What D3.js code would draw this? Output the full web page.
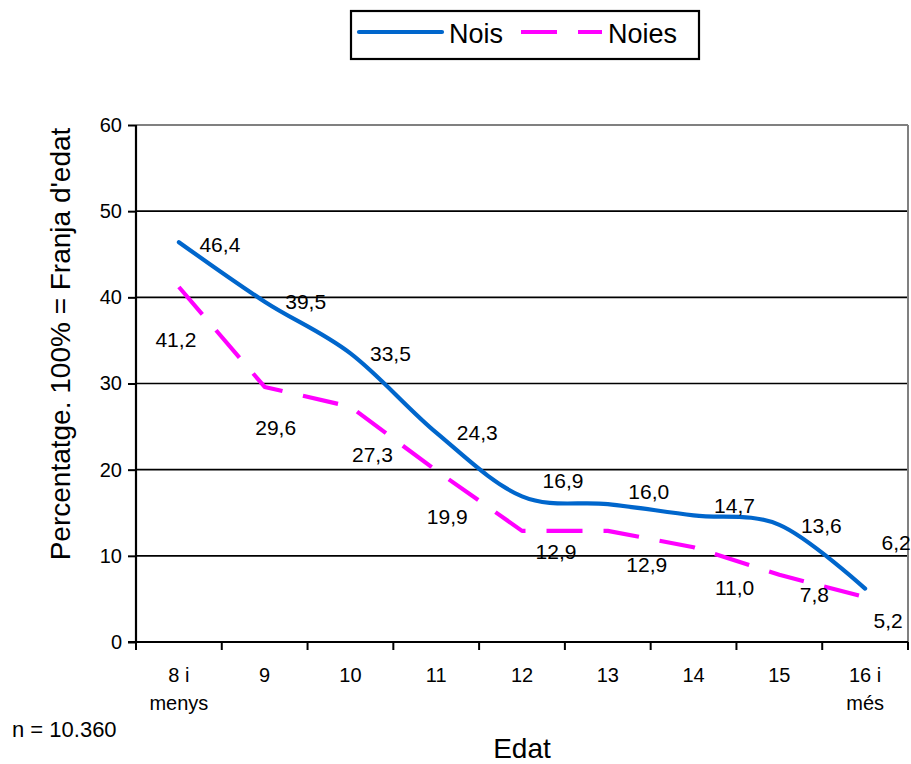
<!DOCTYPE html>
<html>
<head>
<meta charset="utf-8">
<script src="https://cdn.jsdelivr.net/npm/d3@7/dist/d3.min.js"></script>
<style>
  html, body { margin: 0; padding: 0; background: #fff; }
  svg text { font-family: "Liberation Sans", Arial, sans-serif; fill: #000; }
</style>
</head>
<body>
<svg id="chart" width="911" height="764"></svg>
<script>
// Age groups (two-line labels) and shares per group, in percent
const categories = [["8 i", "menys"], ["9"], ["10"], ["11"], ["12"], ["13"], ["14"], ["15"], ["16 i", "més"]];
const nois  = [46.4, 39.5, 33.5, 24.3, 16.9, 16.0, 14.7, 13.6, 6.2];
const noies = [41.2, 29.6, 27.3, 19.9, 12.9, 12.9, 11.0, 7.8, 5.2];
const yTicks = [0, 10, 20, 30, 40, 50, 60];
const seriesNames = ["Nois", "Noies"];
const sampleNote = "n = 10.360";

// Where each value label sits relative to its point (dx, dy)
const noisLabelShift  = [[41, 2], [41, 0], [40, 0], [41, 0], [41, -16], [41, -13], [41, -10], [42, 1], [31, -46]];
const noiesLabelShift = [[-3, 52], [11, 40], [22, 48], [11, 46], [34, 21], [39, 34], [41, 40], [35, 20], [23, 23]];

const svg = d3.select("#chart");
const plot = { left: 136, right: 908, top: 125, bottom: 642 };

const keys = categories.map((c, i) => i);
const x = d3.scaleBand().domain(keys).range([plot.left, plot.right]).padding(0);
const y = d3.scaleLinear().domain([0, 60]).range([plot.bottom, plot.top]);
const cx = i => x(i) + x.bandwidth() / 2;
const fmt = v => d3.format(".1f")(v).replace(".", ",");

// Horizontal gridlines (top one grey, like the plot frame)
svg.append("g").selectAll("line").data(yTicks.filter(t => t > 0)).join("line")
  .attr("x1", plot.left).attr("x2", plot.right)
  .attr("y1", d => y(d)).attr("y2", d => y(d))
  .attr("stroke", d => d === 60 ? "#808080" : "#000")
  .attr("stroke-width", d => d === 60 ? 2 : 1.6);

// Right edge of the plot area
svg.append("line")
  .attr("x1", plot.right).attr("x2", plot.right)
  .attr("y1", plot.top).attr("y2", plot.bottom)
  .attr("stroke", "#808080").attr("stroke-width", 2);

// Y axis
const yAxis = svg.append("g").attr("transform", `translate(${plot.left},0)`)
  .call(d3.axisLeft(y).tickValues(yTicks).tickSize(8).tickPadding(6));
yAxis.select(".domain").attr("stroke", "#000").attr("stroke-width", 2.2)
  .attr("d", `M0,${plot.top}V${plot.bottom}`);
yAxis.selectAll(".tick line").attr("stroke", "#000").attr("stroke-width", 2);
yAxis.selectAll(".tick text").attr("font-size", 20).attr("fill", "#000")
  .attr("font-family", "Liberation Sans, Arial, sans-serif");

// X axis: ticks on category boundaries
const xAxisG = svg.append("g").attr("transform", `translate(0,${plot.bottom})`);
xAxisG.append("line").attr("x1", plot.left - 8).attr("x2", plot.right)
  .attr("stroke", "#000").attr("stroke-width", 2.2);
const bounds = keys.map(i => x(i)).concat([plot.right]);
xAxisG.selectAll("line.tk").data(bounds).join("line").attr("class", "tk")
  .attr("x1", d => d).attr("x2", d => d).attr("y1", 0).attr("y2", 8)
  .attr("stroke", "#000").attr("stroke-width", 2);
const catText = xAxisG.selectAll("text.cat").data(categories).join("text").attr("class", "cat")
  .attr("text-anchor", "middle").attr("font-size", 20)
  .attr("transform", (d, i) => `translate(${cx(i)},40)`);
catText.selectAll("tspan").data(d => d).join("tspan")
  .attr("x", 0).attr("dy", (d, j) => j === 0 ? 0 : 28).text(d => d);

// Nois is drawn smoothed, Noies as a straight polyline
const smooth = d3.line().x((d, i) => cx(i)).y(d => y(d)).curve(d3.curveCardinal.tension(0));
const straight = d3.line().x((d, i) => cx(i)).y(d => y(d));

svg.append("path").datum(noies).attr("d", straight)
  .attr("fill", "none").attr("stroke", "#FF00FF").attr("stroke-width", 4.2)
  .attr("stroke-linejoin", "round").attr("stroke-dasharray", "36,21");
svg.append("path").datum(nois).attr("d", smooth)
  .attr("fill", "none").attr("stroke", "#0066CC").attr("stroke-width", 4.2)
  .attr("stroke-linecap", "round");

// Value labels
function labels(values, shift) {
  svg.append("g").selectAll("text").data(values).join("text")
    .attr("x", (d, i) => cx(i) + shift[i][0])
    .attr("y", (d, i) => y(d) + shift[i][1])
    .attr("dy", "0.36em").attr("text-anchor", "middle").attr("font-size", 21)
    .text(d => fmt(d));
}
labels(nois, noisLabelShift);
labels(noies, noiesLabelShift);

// Axis titles and note
svg.append("text").attr("transform", `translate(70,344) rotate(-90)`)
  .attr("text-anchor", "middle").attr("font-size", 28)
  .text("Percentatge. 100% = Franja d'edat");
svg.append("text").attr("x", 522).attr("y", 758).attr("text-anchor", "middle")
  .attr("font-size", 28).text("Edat");
svg.append("text").attr("x", 12).attr("y", 737).attr("font-size", 22).text(sampleNote);

// Legend
const lg = svg.append("g");
lg.append("rect").attr("x", 351).attr("y", 11).attr("width", 348).attr("height", 48)
  .attr("fill", "#fff").attr("stroke", "#000").attr("stroke-width", 2.2);
lg.append("line").attr("x1", 359).attr("x2", 442).attr("y1", 32).attr("y2", 32)
  .attr("stroke", "#0066CC").attr("stroke-width", 4.2).attr("stroke-linecap", "round");
lg.append("text").attr("x", 449).attr("y", 43).attr("font-size", 27).text(seriesNames[0]);
lg.append("line").attr("x1", 521).attr("x2", 602).attr("y1", 32).attr("y2", 32)
  .attr("stroke", "#FF00FF").attr("stroke-width", 4.2).attr("stroke-dasharray", "36,21");
lg.append("text").attr("x", 608).attr("y", 43).attr("font-size", 27).text(seriesNames[1]);
</script>
</body>
</html>
